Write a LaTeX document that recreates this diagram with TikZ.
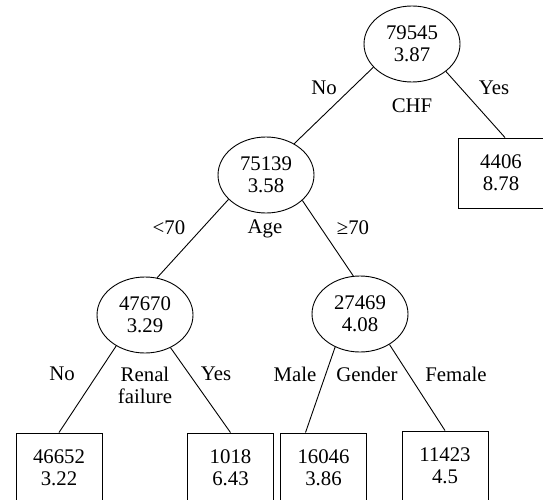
\documentclass[tikz,border=0pt]{standalone}
\usepackage{fontspec}
\setmainfont{Liberation Serif}
\usetikzlibrary{shapes.geometric}
\begin{document}
\begin{tikzpicture}[x=1pt,y=-1pt,
  every node/.style={font=\fontsize{20.8}{22}\selectfont, text=black},
  ell/.style={draw, ellipse, line width=0.9pt, minimum width=96pt, minimum height=76pt, inner sep=0pt, align=center},
  leaf/.style={draw, rectangle, line width=0.9pt, minimum width=86pt, minimum height=70pt, inner sep=0pt, align=center},
  lbl/.style={inner sep=0pt, align=center},
  edge/.style={line width=0.9pt, draw=black}]
\clip (0,0) rectangle (543,500);
\fill[white] (0,0) rectangle (543,500);
% internal nodes
\node[ell] (root) at (412,44) {79545\\3.87};
\node[ell] (n75) at (266,175) {75139\\3.58};
\node[ell] (n47) at (145,315) {47670\\3.29};
\node[ell] (n27) at (360,314) {27469\\4.08};
% leaves
\node[leaf] (r4406) at (501,173) {4406\\8.78};
\node[leaf] (r46652) at (59,468) {46652\\3.22};
\node[leaf] (r1018) at (230.5,468) {1018\\6.43};
\node[leaf] (r16046) at (323.5,468) {16046\\3.86};
\node[leaf] (r11423) at (445,466) {11423\\4.5};
% edges
\draw[edge] (root.211) -- (n75.48);
\draw[edge] (root.-39) -- ([xshift=4pt]r4406.north);
\draw[edge] (n75.213) -- (n47.72);
\draw[edge] (n75.-35) -- (n27.100);
\draw[edge] (n47.227) -- (r46652.north);
\draw[edge] (n47.-52) -- (r1018.north);
\draw[edge] (n27.233) -- ([xshift=-18pt]r16046.north);
\draw[edge] (n27.-46) -- (r11423.north);
% labels
\node[lbl] (lno1) at (324,88) {No};
\node[lbl] (lchf) at (412,106) {CHF};
\node[lbl] (lyes1) at (494,88) {Yes};
\node[lbl] (llt) at (169,228) {<70};
\node[lbl] (lage) at (265,229) {Age};
\node[lbl] (lge) at (353,228) {≥70};
\node[lbl] (lno2) at (62,374) {No};
\node[lbl] (lrenal) at (145,385) {Renal\\failure};
\node[lbl] (lyes2) at (216,374) {Yes};
\node[lbl] (lmale) at (295,374) {Male};
\node[lbl] (lgender) at (367,374) {Gender};
\node[lbl] (lfemale) at (456,374) {Female};
\end{tikzpicture}
\end{document}
